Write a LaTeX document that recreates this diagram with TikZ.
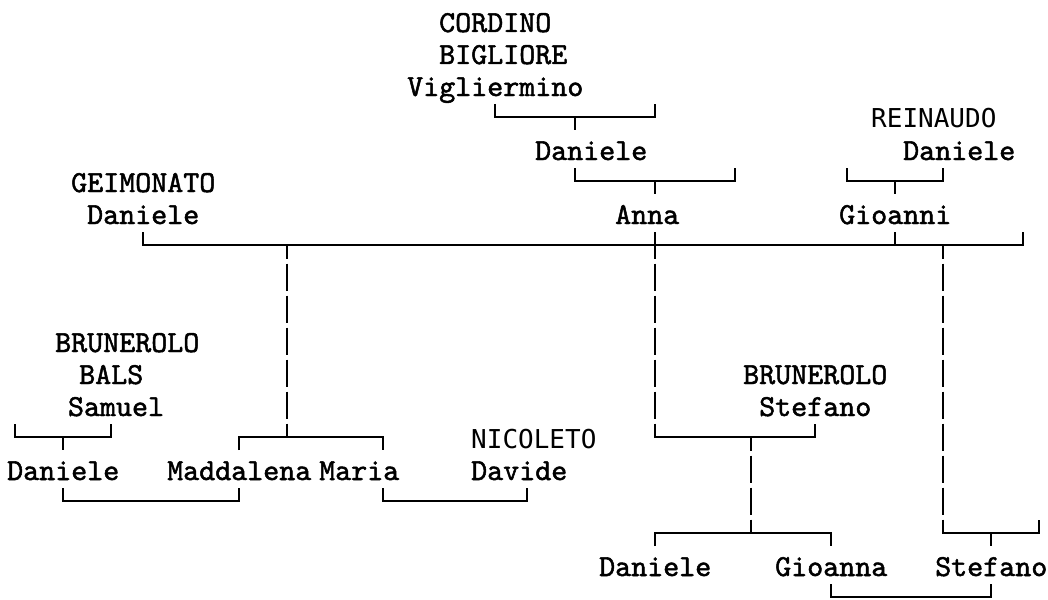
\documentclass[tikz,border=0pt]{standalone}
\usepackage{fontspec}
\newfontfamily\sansmono{DejaVu Sans Mono}
\newfontfamily\tmono{lmmono10-regular.otf}[FakeBold=1.6]
\tikzset{
  ln/.style={line width=1.8pt, draw=black},
  dsh/.style={line width=1.8pt, draw=black, dash pattern=on 27pt off 5pt, dash phase=13.5pt},
  lbl/.style={inner sep=0pt, anchor=base west, font=\fontsize{30.5}{32}\tmono},
  slbl/.style={inner sep=0pt, anchor=base west, font=\fontsize{26}{32}\sansmono},
}
\newcommand\Tx[5]{\node[#1] (#2) at ({7+16*#3},{32+32*#4}) {#5};}
\newcommand\Pt[3]{\coordinate (#1) at ({15+16*#2},{21+32*#3});}
\newcommand\BrU[4]{%
  \Pt{#1a}{#3}{#2}\Pt{#1b}{#4}{#2}%
  \draw[ln] ([yshift=13pt]#1a) -- (#1a) -- (#1b) -- ([yshift=13pt]#1b);}
\newcommand\BrD[4]{%
  \Pt{#1a}{#3}{#2}\Pt{#1b}{#4}{#2}%
  \draw[ln] ([yshift=-13pt]#1a) -- (#1a) -- (#1b) -- ([yshift=-13pt]#1b);}
\newcommand\Up[3]{\Pt{#1}{#2}{#3}\draw[ln] (#1) -- ([yshift=13pt]#1);}
\newcommand\Dn[3]{\Pt{#1}{#2}{#3}\draw[ln] (#1) -- ([yshift=-13pt]#1);}
\begin{document}
\begin{tikzpicture}[x=1pt,y=-1pt]
\fill[white] (0,0) rectangle (1048,599);
\useasboundingbox (0,0) rectangle (1048,599);
% texts
\Tx{lbl}{cordino}{27}{0}{CORDINO}
\Tx{lbl}{bigliore}{27}{1}{BIGLIORE}
\Tx{lbl}{vigliermino}{25}{2}{Vigliermino}
\Tx{slbl}{reinaudo}{54}{3}{REINAUDO}
\Tx{lbl}{danieleC}{33}{4}{Daniele}
\Tx{lbl}{danieleR}{56}{4}{Daniele}
\Tx{lbl}{geimonato}{4}{5}{GEIMONATO}
\Tx{lbl}{danieleG}{5}{6}{Daniele}
\Tx{lbl}{anna}{38}{6}{Anna}
\Tx{lbl}{gioanni}{52}{6}{Gioanni}
\Tx{lbl}{brunA}{3}{10}{BRUNEROLO}
\Tx{lbl}{bals}{4.5}{11}{BALS}
\Tx{lbl}{samuel}{3.8}{12}{Samuel}
\Tx{lbl}{brunB}{46}{11}{BRUNEROLO}
\Tx{lbl}{stefanoB}{47}{12}{Stefano}
\Tx{slbl}{nicoleto}{29}{13}{NICOLETO}
\Tx{lbl}{danieleS}{0}{14}{Daniele}
\Tx{lbl}{maddalena}{10}{14}{Maddalena}
\Tx{lbl}{maria}{19.5}{14}{Maria}
\Tx{lbl}{davide}{29}{14}{Davide}
\Tx{lbl}{danieleB}{37}{17}{Daniele}
\Tx{lbl}{gioanna}{48}{17}{Gioanna}
\Tx{lbl}{stefanoC}{58}{17}{Stefano}
% brackets
\BrU{bA}{3}{30}{40} \Dn{tA}{35}{3}
\BrU{bB}{5}{35}{45} \Dn{tB}{40}{5}
\BrU{bC}{5}{52}{58} \Dn{tC}{55}{5}
\BrU{bM}{7}{8}{63} \Up{tMa}{40}{7} \Up{tMb}{55}{7}
\Pt{m17}{17}{7} \Pt{m40}{40}{7} \Pt{m58}{58}{7}
\BrU{bD}{13}{0}{6} \Dn{tD}{3}{13}
\BrD{bE}{13}{14}{23} \Pt{e17}{17}{13}
\BrU{bF}{13}{40}{50} \Pt{f46}{46}{13}
\BrU{bG}{15}{3}{14}
\BrU{bH}{15}{23}{32}
\BrD{bI}{16}{40}{51} \Pt{i46}{46}{16}
\BrU{bJ}{16}{58}{64} \Dn{tJ}{61}{16}
\BrU{bK}{18}{51}{61}
% dashed descent lines
\draw[dsh] (m17) -- (e17);
\draw[dsh] (m40) -- (bFa);
\draw[dsh] (m58) -- (bJa);
\draw[dsh] (f46) -- (i46);
\end{tikzpicture}
\end{document}
